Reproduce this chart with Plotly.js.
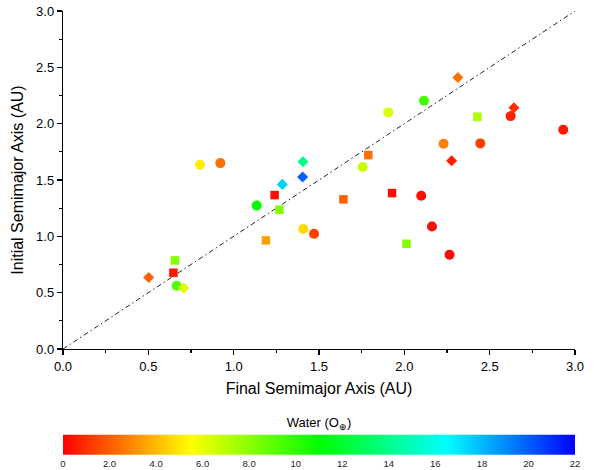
<!DOCTYPE html>
<html>
<head>
<meta charset="utf-8">
<script src="https://cdn.plot.ly/plotly-3.0.1.min.js"></script>
<style>
  html, body { margin: 0; padding: 0; background: #fff; }
  #chart { width: 598px; height: 470px; }
</style>
</head>
<body>
<div id="chart"></div>
<script>
// Circles
const circleFinal   = [0.666, 0.803, 0.922, 1.135, 1.408, 1.471, 2.115, 1.906, 2.623, 2.931, 2.230, 2.445, 1.756, 2.099, 2.162, 2.265];
const circleInitial = [0.562, 1.635, 1.650, 1.274, 1.065, 1.023, 2.203, 2.100, 2.067, 1.946, 1.822, 1.825, 1.615, 1.360, 1.088, 0.837];
const circleWater   = [9.2,   5.1,   2.4,   11.0,  4.7,   1.4,   9.6,   6.3,   0.7,   0.5,   2.75,  1.4,   6.7,   0.3,   0.3,   0.2];
// Squares
const squareFinal   = [0.656, 0.647, 1.240, 1.268, 1.189, 2.428, 1.789, 1.643, 1.928, 2.013];
const squareInitial = [0.786, 0.677, 1.366, 1.236, 0.964, 2.061, 1.721, 1.328, 1.384, 0.934];
const squareWater   = [8.2,   0.5,   0.3,   8.2,   3.5,   7.3,   2.4,   2.1,   0.3,   8.2];
// Diamonds
const diamondFinal   = [0.502, 0.707, 1.285, 1.406, 1.404, 2.314, 2.642, 2.277];
const diamondInitial = [0.635, 0.541, 1.461, 1.662, 1.526, 2.410, 2.141, 1.671];
const diamondWater   = [2.1,   6.2,   17.5,  14.1,  19.9,  2.4,   1.0,   0.7];
// 1:1 reference line
const oneToOne = [0, 3];
// Colorbar ticks
const cbTickVals = [0, 2, 4, 6, 8, 10, 12, 14, 16, 18, 20, 22];
const cbTickText = ['0', '2.0', '4.0', '6.0', '8.0', '10', '12', '14', '16', '18', '20', '22'];

const FONT = 'Liberation Sans, Arial, sans-serif';

function pts(x, y, c, symbol, size) {
  return {
    type: 'scatter', mode: 'markers', x: x, y: y, showlegend: false,
    hoverinfo: 'skip',
    marker: { symbol: symbol, size: size, color: c, coloraxis: 'coloraxis', line: { width: 0 } }
  };
}

const traces = [
  { type: 'scatter', mode: 'lines', x: oneToOne, y: oneToOne, showlegend: false, hoverinfo: 'skip',
    line: { color: '#222', width: 1, dash: '5px,3px,1.5px,3px' } },
  pts(circleFinal, circleInitial, circleWater, 'circle', 10),
  pts(squareFinal, squareInitial, squareWater, 'square', 8.5),
  pts(diamondFinal, diamondInitial, diamondWater, 'diamond', 8.5)
];

const axisCommon = {
  range: [0, 3], autorange: false, showgrid: false, zeroline: false,
  showline: true, linecolor: '#000', linewidth: 1.2, mirror: false,
  ticks: 'outside', ticklen: 5, tickwidth: 1.2, tickcolor: '#000',
  dtick: 0.5, tick0: 0, tickformat: '.1f',
  minor: { dtick: 0.25, ticks: 'outside', ticklen: 3, tickwidth: 1.2, tickcolor: '#000', showgrid: false },
  tickfont: { family: FONT, size: 13, color: '#000' }
};

const layout = {
  width: 598, height: 470,
  margin: { l: 63, r: 23, t: 11, b: 121, autoexpand: false },
  paper_bgcolor: '#fff', plot_bgcolor: '#fff',
  font: { family: FONT, color: '#000' },
  xaxis: Object.assign({}, axisCommon, {
    title: { text: 'Final Semimajor Axis (AU)', font: { family: FONT, size: 16, color: '#000' }, standoff: 10 }
  }),
  yaxis: Object.assign({}, axisCommon, {
    title: { text: 'Initial Semimajor Axis (AU)', font: { family: FONT, size: 16, color: '#000' }, standoff: 8 }
  }),
  coloraxis: {
    cmin: 0, cmax: 22,
    colorscale: [[0, '#ff0000'], [0.25, '#ffff00'], [0.5, '#00ff00'], [0.75, '#00ffff'], [1, '#0000ff']],
    colorbar: {
      orientation: 'h',
      x: 0.5, xanchor: 'center', xref: 'paper',
      y: -0.203, yanchor: 'top', yref: 'paper',
      len: 512, lenmode: 'pixels',
      thickness: 20, thicknessmode: 'pixels',
      xpad: 0, ypad: 0,
      outlinewidth: 0,
      ticks: '', ticklen: 0,
      tickmode: 'array', tickvals: cbTickVals, ticktext: cbTickText,
      tickfont: { family: FONT, size: 9.5, color: '#222' },
      title: { text: 'Water (O<sub>⊕</sub>)', side: 'top', font: { family: FONT, size: 13, color: '#000' } }
    }
  }
};

Plotly.newPlot('chart', traces, layout, { staticPlot: true, displayModeBar: false });
</script>
</body>
</html>
